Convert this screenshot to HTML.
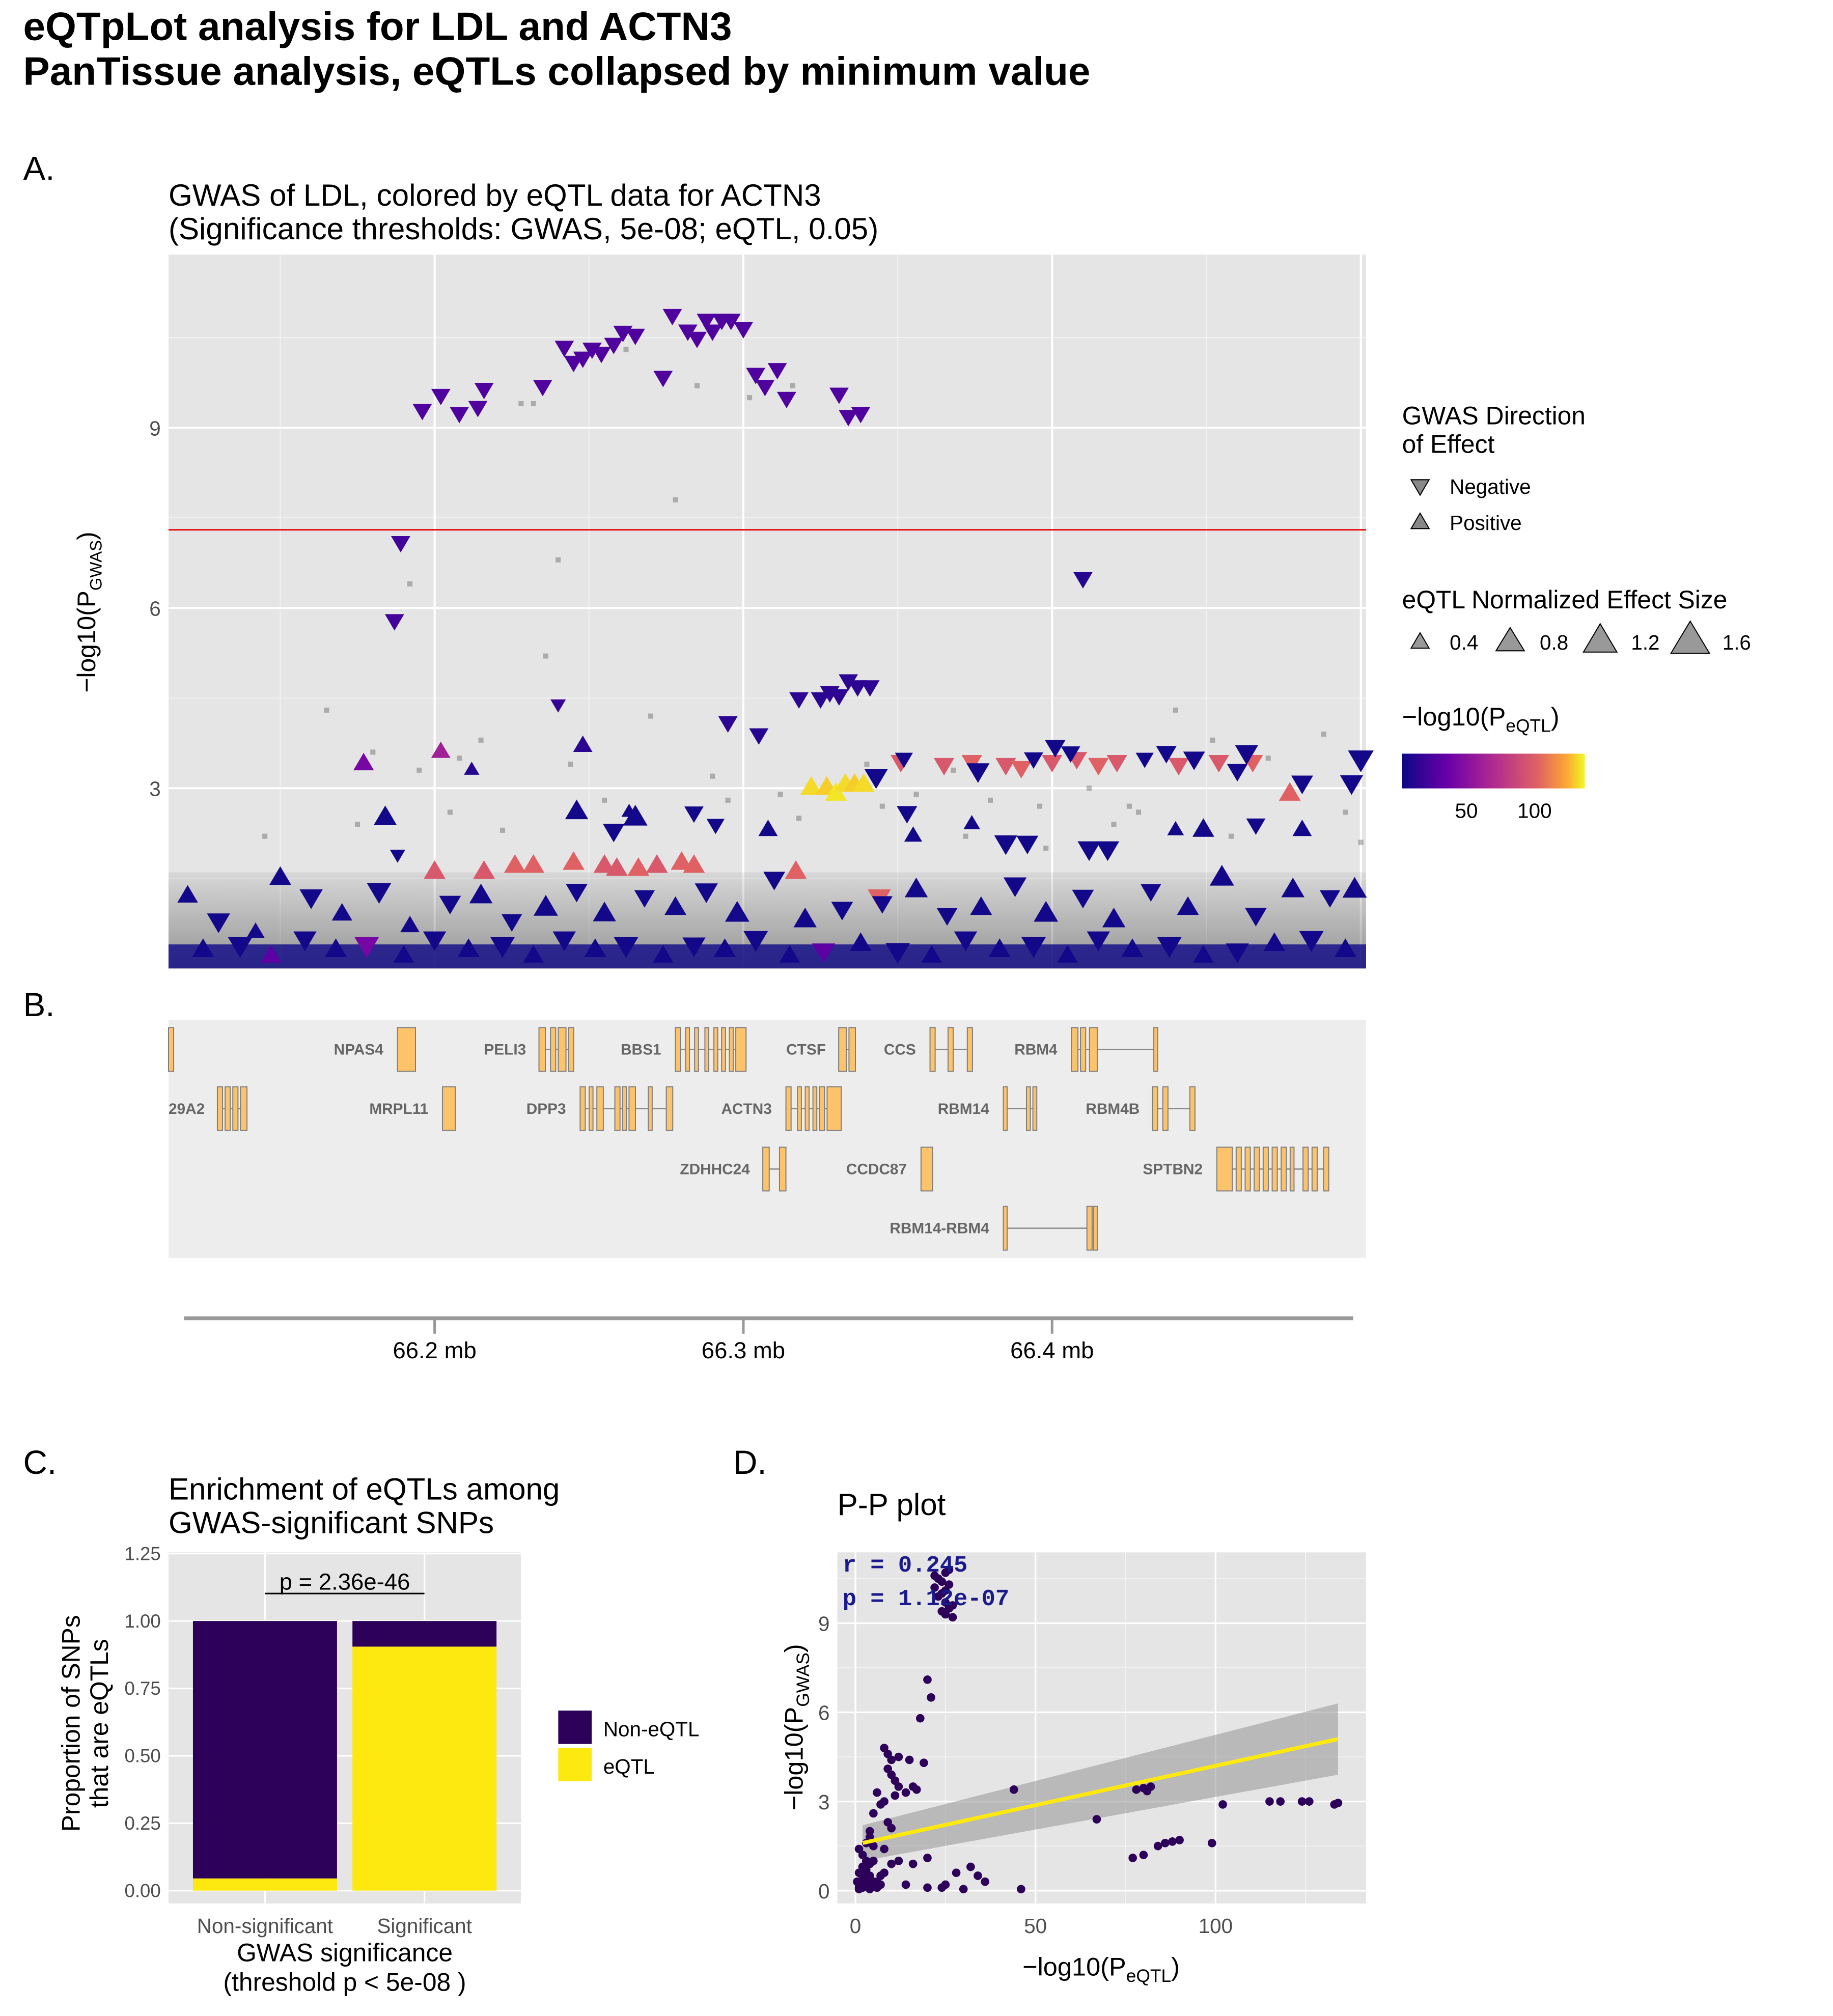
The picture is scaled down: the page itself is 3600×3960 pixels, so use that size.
<!DOCTYPE html>
<html><head><meta charset="utf-8">
<style>
html,body{margin:0;padding:0;background:#fff;}
svg{display:block;font-family:"Liberation Sans",Arial,sans-serif;}
</style></head>
<body>
<svg id="root" width="3600" height="3960" viewBox="0 0 1425 1567.5" xmlns="http://www.w3.org/2000/svg">
<text x="18" y="31" font-size="31" font-weight="bold">eQTpLot analysis for LDL and ACTN3</text>
<text x="18" y="66" font-size="31" font-weight="bold">PanTissue analysis, eQTLs collapsed by minimum value</text>

<text x="18" y="140" font-size="26">A.</text>
<text x="131" y="160" font-size="23.8">GWAS of LDL, colored by eQTL data for ACTN3</text>
<text x="131" y="186" font-size="23.8">(Significance thresholds: GWAS, 5e-08; eQTL, 0.05)</text>
<g id="panelA"></g>
<g id="legendA">
<text x="1090" y="330" font-size="19.7">GWAS Direction</text>
<text x="1090" y="352" font-size="19.7">of Effect</text>
<polygon points="1097,373 1111,373 1104,385" fill="#888" stroke="#000" stroke-width="0.8"/>
<text x="1127" y="384" font-size="16">Negative</text>
<polygon points="1097,411 1111,411 1104,399" fill="#888" stroke="#000" stroke-width="0.8"/>
<text x="1127" y="412" font-size="16">Positive</text>
<text x="1090" y="473" font-size="19.7">eQTL Normalized Effect Size</text>
<polygon points="1097,504 1111,504 1104,492" fill="#999" stroke="#000" stroke-width="0.8"/>
<text x="1127" y="505" font-size="16">0.4</text>
<polygon points="1163,506 1185,506 1174,488" fill="#999" stroke="#000" stroke-width="0.8"/>
<text x="1197" y="505" font-size="16">0.8</text>
<polygon points="1231,507 1257,507 1244,485" fill="#999" stroke="#000" stroke-width="0.8"/>
<text x="1268" y="505" font-size="16">1.2</text>
<polygon points="1299,508 1329,508 1314,483" fill="#999" stroke="#000" stroke-width="0.8"/>
<text x="1339" y="505" font-size="16">1.6</text>
<text x="1090" y="564" font-size="20">−log10(P<tspan font-size="14" dy="5">eQTL</tspan><tspan dy="-5">)</tspan></text>
<defs><linearGradient id="plasma" x1="0" x2="1" y1="0" y2="0">
<stop offset="0" stop-color="#0d0887"/><stop offset="0.25" stop-color="#6a00a8"/><stop offset="0.5" stop-color="#b12a90"/><stop offset="0.75" stop-color="#e16462"/><stop offset="0.9" stop-color="#fca636"/><stop offset="1" stop-color="#f0f921"/></linearGradient>
<linearGradient id="cloudGrad" x1="0" x2="0" y1="0" y2="1"><stop offset="0" stop-color="#000" stop-opacity="0.06"/><stop offset="1" stop-color="#000" stop-opacity="0.35"/></linearGradient></defs>
<rect x="1090" y="586" width="142" height="27" fill="url(#plasma)"/>
<text x="1140" y="636" font-size="16" text-anchor="middle">50</text>
<text x="1193" y="636" font-size="16" text-anchor="middle">100</text>
</g>

<text x="18" y="790" font-size="26">B.</text>
<rect x="131" y="793" width="931" height="185" fill="#ededed"/>
<g id="genes"></g>
<line x1="143" y1="1025" x2="1052" y2="1025" stroke="#999" stroke-width="3"/>
<g id="bAxis"></g>

<text x="18" y="1146" font-size="26">C.</text>
<text x="131" y="1166" font-size="23.8">Enrichment of eQTLs among</text>
<text x="131" y="1192" font-size="23.8">GWAS-significant SNPs</text>
<g id="panelC"></g>
<rect x="434" y="1630" width="0" height="0"/>
<rect x="434" y="1330" width="26" height="26" fill="#2d0059"/>
<text x="469" y="1350" font-size="16">Non-eQTL</text>
<rect x="434" y="1359" width="26" height="26" fill="#fde910"/>
<text x="469" y="1379" font-size="16">eQTL</text>

<text x="570" y="1146" font-size="26">D.</text>
<text x="651" y="1178" font-size="23.8">P-P plot</text>
<g id="panelD"></g>
</svg>
<script>
var NS="http://www.w3.org/2000/svg";
function mk(tag,attrs,parent,txt){var e=document.createElementNS(NS,tag);for(var k in attrs)e.setAttribute(k,attrs[k]);if(txt!=null)e.textContent=txt;parent.appendChild(e);return e;}

// ===== Panel A data =====
var snpPos=[66.196,66.202,66.208,66.214,66.216,66.235,66.242,66.245,66.248,66.251,66.254,66.258,66.261,66.265,66.274,66.277,66.282,66.285,66.288,66.290,66.293,66.296,66.300,66.304,66.307,66.311,66.314,66.331,66.334,66.338,
66.189,66.187,66.410,66.318,66.325,66.328,66.331,66.334,66.337,66.341,66.295,66.305,66.240,66.202,66.212,66.248,66.263,
66.351,66.365,66.374,66.385,66.390,66.400,66.408,66.415,66.421,66.441,66.454,66.465,
66.343,66.352,66.376,66.394,66.401,66.406,66.430,66.437,66.446,66.460,66.463,66.481,66.497,66.500,
66.322,66.327,66.330,66.333,66.336,66.339,66.477,
66.200,66.216,66.226,66.232,66.245,66.255,66.266,66.272,66.280,66.284,66.317,66.259,66.344,66.177,
66.184,66.188,66.246,66.258,66.265,66.284,66.291,66.308,66.353,66.374,66.385,66.418,66.449,66.466,66.481,66.355,66.392,66.412,66.440,
66.120,66.130,66.142,66.150,66.160,66.170,66.182,66.192,66.205,66.215,66.225,66.236,66.246,66.255,66.268,66.278,66.288,66.298,66.310,66.320,66.332,66.345,66.356,66.366,66.377,66.388,66.398,66.410,66.420,66.432,66.444,66.455,66.466,66.478,66.490,66.498,
66.125,66.137,66.147,66.158,66.168,66.178,66.190,66.200,66.211,66.222,66.232,66.242,66.252,66.262,66.274,66.284,66.294,66.304,66.315,66.326,66.338,66.350,66.361,66.372,66.383,66.394,66.405,66.415,66.426,66.438,66.449,66.460,66.472,66.484,66.495];
var snpLogP=[9.3,9.55,9.25,9.35,9.65,9.7,10.35,10.1,10.17,10.32,10.25,10.4,10.6,10.55,9.85,10.88,10.62,10.5,10.8,10.62,10.8,10.8,10.66,9.9,9.7,9.98,9.5,9.57,9.2,9.25,
7.1,5.8,6.5,4.5,4.5,4.6,4.55,4.8,4.7,4.7,4.1,3.9,4.4,3.6,3.3,3.7,2.6,
3.45,3.4,3.45,3.4,3.35,3.45,3.5,3.4,3.45,3.4,3.45,3.45,
3.2,3.5,3.3,3.5,3.7,3.6,3.5,3.6,3.5,3.3,3.6,3.1,3.1,3.5,
3.0,3.0,2.9,3.05,3.05,3.05,2.9,
1.6,1.6,1.7,1.7,1.75,1.7,1.65,1.7,1.75,1.7,1.6,1.65,1.2,3.4,
2.5,1.9,2.6,2.3,2.5,2.6,2.4,2.3,2.6,2.4,2.1,2.0,2.3,2.4,2.3,2.2,2.1,2.0,2.3,
1.2,0.8,0.6,1.5,1.2,0.9,1.3,0.7,1.1,1.2,0.8,1.0,1.3,0.9,1.2,1.0,1.3,0.9,1.5,0.8,1.0,1.1,1.3,0.9,1.0,1.4,0.9,1.2,0.8,1.3,1.0,1.5,0.9,1.3,1.2,1.3,
0.3,0.4,0.2,0.5,0.3,0.4,0.2,0.5,0.3,0.4,0.2,0.5,0.3,0.4,0.2,0.4,0.3,0.5,0.2,0.3,0.4,0.3,0.2,0.5,0.3,0.4,0.2,0.5,0.3,0.4,0.2,0.3,0.4,0.5,0.3];
var snpDir=[-1,-1,-1,-1,-1,-1,-1,-1,-1,-1,-1,-1,-1,-1,-1,-1,-1,-1,-1,-1,-1,-1,-1,-1,-1,-1,-1,-1,-1,-1,
-1,-1,-1,-1,-1,-1,-1,-1,-1,-1,-1,-1,-1,1,1,1,1,
-1,-1,-1,-1,-1,-1,-1,-1,-1,-1,-1,-1,
-1,-1,-1,-1,-1,-1,-1,-1,-1,-1,-1,-1,-1,-1,
1,1,1,1,1,1,1,
1,1,1,1,1,1,1,1,1,1,1,1,-1,1,
1,-1,1,-1,1,-1,-1,1,-1,1,-1,-1,1,-1,1,1,-1,-1,1,
1,-1,1,1,-1,1,-1,1,-1,1,-1,1,-1,1,-1,1,-1,1,-1,1,-1,-1,1,-1,1,-1,1,-1,1,-1,1,1,-1,1,-1,1,
1,-1,1,-1,1,-1,1,-1,1,-1,1,-1,1,-1,1,-1,1,-1,1,-1,1,-1,1,-1,1,-1,1,-1,1,-1,1,-1,1,-1,1];
var snpEqtl=[25,25,25,25,25,25,25,25,25,25,25,25,25,25,25,25,25,25,25,25,25,25,25,25,25,25,25,25,25,25,
20,20,10,12,12,12,12,12,12,12,12,10,15,60,10,12,5,
95,95,100,95,100,95,95,100,95,95,95,100,
3,3,3,3,3,3,3,3,3,3,3,3,3,3,
130,128,132,130,128,130,100,
95,95,100,100,100,95,100,95,100,100,100,95,100,40,
3,3,3,3,3,3,3,3,3,3,3,3,3,3,3,3,3,3,3,
3,3,3,3,3,3,3,3,3,3,3,3,3,3,3,3,3,3,3,3,3,3,3,3,3,3,3,3,3,3,3,3,3,3,3,3,
3,3,30,3,3,40,3,3,3,3,3,3,3,3,3,3,3,3,3,30,3,3,3,3,3,3,3,3,3,3,3,3,3,3,3];
var snpEffect=[0.9,0.9,0.9,0.9,0.9,0.9,0.9,0.9,0.9,0.9,0.9,0.9,0.9,0.9,0.9,0.9,0.9,0.9,0.9,0.9,0.9,0.9,0.9,0.9,0.9,0.9,0.9,0.9,0.9,0.9,
0.9,0.9,0.9,0.9,0.9,0.9,0.9,0.9,0.9,0.9,0.9,0.9,0.6,0.9,0.6,0.9,0.6,
1.0,1.0,1.0,1.0,1.0,1.0,1.0,1.0,1.0,1.0,1.0,1.0,
1.2,0.8,1.2,0.9,1.0,0.9,0.8,1.0,1.1,1.0,1.2,1.1,1.2,1.4,
1.1,1.1,1.1,1.1,1.1,1.1,1.1,
1.1,1.1,1.1,1.1,1.1,1.1,1.1,1.1,1.1,1.1,1.1,1.1,1.2,1.0,
1.2,0.6,1.2,1.1,1.3,0.9,0.8,0.9,1.0,0.7,1.2,1.2,1.1,0.9,0.9,0.8,1.1,1.2,0.7,
1.0,1.2,0.8,1.1,1.2,1.0,1.3,0.9,1.1,1.2,1.0,1.3,1.1,1.2,1.0,1.1,1.2,1.3,1.1,1.2,1.1,1.0,1.2,1.0,1.1,1.2,1.3,1.1,1.2,1.0,1.1,1.3,1.1,1.2,1.0,1.3,
1.1,1.3,1.0,1.2,1.1,1.3,1.0,1.2,1.1,1.3,1.0,1.2,1.1,1.3,1.0,1.2,1.1,1.3,1.0,1.2,1.1,1.3,1.0,1.2,1.1,1.3,1.0,1.2,1.1,1.3,1.0,1.2,1.1,1.3,1.1];
var greyPos=[66.165,66.18,66.192,66.195,66.208,66.215,66.228,66.232,66.236,66.240,66.244,66.262,66.270,66.278,66.285,66.290,66.295,66.302,66.312,66.316,66.340,66.356,66.368,66.380,66.396,66.412,66.425,66.428,66.440,66.452,66.470,66.488,66.495,66.500,66.145,66.175,66.205,66.222,66.255,66.318,66.345,66.372,66.398,66.420,66.458,66.482];
var greyLogP=[4.3,3.6,6.4,3.3,3.5,3.8,9.4,9.4,5.2,6.8,3.4,10.3,4.2,7.8,9.7,3.2,2.8,9.5,2.9,9.7,3.4,2.9,3.3,2.8,2.7,3.0,2.7,2.6,4.3,3.8,3.5,3.9,2.6,2.1,2.2,2.4,2.6,2.3,2.8,2.5,2.7,2.2,2.0,2.4,2.2,2.3];

var A={x0:131,y0:198,w:931,h:555};
var xMin=66.1138,xMax=66.5017,yMax=11.88;
function ax(v){return A.x0+(v-xMin)/(xMax-xMin)*A.w;}
function ay(v){return A.y0+A.h-v/yMax*A.h;}
var plasmaStops=[[0,13,8,135],[0.25,106,0,168],[0.5,177,42,144],[0.75,225,100,98],[0.9,252,166,54],[1,240,249,33]];
function plasma(v){var t=Math.max(0,Math.min(1,(v-1)/(135-1)));for(var i=1;i<plasmaStops.length;i++){if(t<=plasmaStops[i][0]){var a=plasmaStops[i-1],b=plasmaStops[i],f=(t-a[0])/(b[0]-a[0]);return "rgb("+Math.round(a[1]+f*(b[1]-a[1]))+","+Math.round(a[2]+f*(b[2]-a[2]))+","+Math.round(a[3]+f*(b[3]-a[3]))+")";}}return "rgb(240,249,33)";}

var gA=document.getElementById('panelA');
var bg=mk('rect',{x:A.x0,y:A.y0,width:A.w,height:A.h,fill:'#e5e5e5'},gA);


var yTicks=[3,6,9];
var xTicks=[66.2,66.3,66.4];
var xTickLabels=['66.2 mb','66.3 mb','66.4 mb'];
[1.5,4.5,7.5,10.5].forEach(function(v){var l=mk('line',{x1:A.x0,x2:A.x0+A.w,y1:ay(v),y2:ay(v),stroke:'#f2f2f2','stroke-width':0.8},gA);});
[66.15,66.25,66.35,66.45].forEach(function(v){var l=mk('line',{x1:ax(v),x2:ax(v),y1:A.y0,y2:A.y0+A.h,stroke:'#f2f2f2','stroke-width':0.8},gA);});
yTicks.forEach(function(v){var l=mk('line',{x1:A.x0,x2:A.x0+A.w,y1:ay(v),y2:ay(v),stroke:'#fff','stroke-width':1.6},gA);
var t=mk('text',{x:A.x0-6,y:ay(v)+6,'font-size':16,'text-anchor':'end',fill:'#4d4d4d'},gA,String(v));});
xTicks.concat([66.5]).forEach(function(v){var l=mk('line',{x1:ax(v),x2:ax(v),y1:A.y0,y2:A.y0+A.h,stroke:'#fff','stroke-width':1.6},gA);});
var yt=mk('text',{x:0,y:0,'font-size':19.7,'text-anchor':'middle',transform:'translate(74,476) rotate(-90)'},gA);


yt.innerHTML='−log10(P<tspan font-size="13" dy="5">GWAS</tspan><tspan dy="-5">)</tspan>';
var cloud=mk('rect',{x:A.x0,y:ay(1.6),width:A.w,height:ay(0)-ay(1.6),fill:'url(#cloudGrad)'},gA);


var cloud2=mk('rect',{x:A.x0,y:ay(0.4),width:A.w,height:ay(0)-ay(0.4),fill:'rgba(13,8,135,0.8)'},gA);


greyPos.forEach(function(p,i){var r=mk('rect',{x:ax(p)-2,y:ay(greyLogP[i])-2,width:4,height:4,fill:'rgba(0,0,0,0.25)'},gA);});
var thr=mk('line',{x1:A.x0,x2:A.x0+A.w,y1:ay(7.30103),y2:ay(7.30103),stroke:'#e31a1c','stroke-width':1.3},gA);


snpPos.forEach(function(p,i){
  var px=ax(p),py=ay(snpLogP[i]),s=3+snpEffect[i]*5,d=snpDir[i],pts;
  if(d<0)pts=[px-s,py-s*0.6,px+s,py-s*0.6,px,py+s*1.1];else pts=[px-s,py+s*0.6,px+s,py+s*0.6,px,py-s*1.1];
  var t=mk('polygon',{points:pts.join(','),fill:plasma(snpEqtl[i])},gA);
  
  
});

// ===== Panel B genes =====
var genes=[
 {n:'',lx:0,row:0,s:131,e:135,ex:[[131,135]]},
 {n:'NPAS4',lx:298,row:0,s:309,e:323,ex:[[309,323]]},
 {n:'PELI3',lx:409,row:0,s:419,e:446,ex:[[419,424],[428,432],[434,440],[442,446]]},
 {n:'BBS1',lx:514,row:0,s:525,e:580,ex:[[525,529],[533,536],[540,543],[548,551],[555,558],[561,564],[567,570],[572,580]]},
 {n:'CTSF',lx:642,row:0,s:652,e:665,ex:[[652,658],[660,665]]},
 {n:'CCS',lx:712,row:0,s:723,e:756,ex:[[723,727],[737,741],[752,756]]},
 {n:'RBM4',lx:822,row:0,s:833,e:900,ex:[[833,838],[840,844],[847,853],[897,900]]},
 {n:'29A2',lx:159,row:1,s:169,e:192,ex:[[169,173],[175,179],[181,185],[187,192]]},
 {n:'MRPL11',lx:333,row:1,s:344,e:354,ex:[[344,354]]},
 {n:'DPP3',lx:440,row:1,s:451,e:523,ex:[[451,455],[458,461],[464,469],[478,482],[484,487],[489,494],[504,507],[518,523]]},
 {n:'ACTN3',lx:600,row:1,s:611,e:654,ex:[[611,615],[620,623],[626,629],[632,635],[637,641],[643,654]]},
 {n:'RBM14',lx:769,row:1,s:780,e:806,ex:[[780,783],[798,801],[803,806]]},
 {n:'RBM4B',lx:886,row:1,s:896,e:929,ex:[[896,900],[904,908],[925,929]]},
 {n:'ZDHHC24',lx:583,row:2,s:593,e:611,ex:[[593,598],[606,611]]},
 {n:'CCDC87',lx:705,row:2,s:716,e:725,ex:[[716,725]]},
 {n:'SPTBN2',lx:935,row:2,s:946,e:1033,ex:[[946,958],[961,965],[968,972],[975,979],[982,986],[989,993],[996,1000],[1003,1006],[1013,1017],[1020,1024],[1029,1033]]},
 {n:'RBM14-RBM4',lx:769,row:3,s:780,e:853,ex:[[780,783],[845,849],[850,853]]}
];
var rowY=[816,862,909,955];
var gG=document.getElementById('genes');
genes.forEach(function(g){
  var y=rowY[g.row];
  var grp=mk('g',{},gG);
  
  
  mk('line',{x1:g.s,x2:g.e,y1:y,y2:y,stroke:'#888','stroke-width':1},grp);
  g.ex.forEach(function(e){mk('rect',{x:e[0],y:y-17,width:e[1]-e[0],height:34,fill:'#fdc36b',stroke:'#7f7f7f','stroke-width':0.8},grp);});
  if(g.n){var t=mk('text',{x:g.lx,y:y+4,'font-size':11.8,'font-weight':'bold',fill:'#666','text-anchor':'end'},grp,g.n);
    if(g.n==='29A2'){t.setAttribute('text-anchor','start');t.setAttribute('x',131);}}
});
var gB=document.getElementById('bAxis');
var bx0=131,bw=931;
xTicks.forEach(function(v,i){var x=bx0+(v-xMin)/(xMax-xMin)*bw;
 var l=mk('line',{x1:x,x2:x,y1:1025,y2:1037,stroke:'#999','stroke-width':2},gB);
 var t=mk('text',{x:x,y:1056,'font-size':18,'text-anchor':'middle'},gB,xTickLabels[i]);});

// ===== Panel C =====
var cCats=['Non-significant','Significant'];
var cEqtl=[0.045,0.905];
var cYTicks=['0.00','0.25','0.50','0.75','1.00','1.25'];
var C={x0:131,y0:1207,w:274,h:273};
function cyS(v){return 1470-v/1.25*262;}
function cxS(i){return 206+i*124;}
var gC=document.getElementById('panelC');
var cbg=mk('rect',{x:C.x0,y:C.y0,width:C.w,height:C.h,fill:'#e5e5e5'},gC);


cYTicks.forEach(function(s){var v=parseFloat(s);var l=mk('line',{x1:C.x0,x2:C.x0+C.w,y1:cyS(v),y2:cyS(v),stroke:'#fff','stroke-width':1.2},gC);
 var t=mk('text',{x:C.x0-6,y:cyS(v)+5,'font-size':14.5,'text-anchor':'end',fill:'#4d4d4d'},gC,s);});
cCats.forEach(function(c,i){
 var l=mk('line',{x1:cxS(i),x2:cxS(i),y1:C.y0,y2:C.y0+C.h,stroke:'#fff','stroke-width':1.2},gC);
});
cCats.forEach(function(c,i){
 var x=cxS(i)-56;
 var b1=mk('rect',{x:x,y:cyS(1),width:112,height:cyS(cEqtl[i])-cyS(1),fill:'#2d0059'},gC);
 
 
 var b2=mk('rect',{x:x,y:cyS(cEqtl[i]),width:112,height:cyS(0)-cyS(cEqtl[i]),fill:'#fde910'},gC);
 
 
 var t=mk('text',{x:cxS(i),y:1503,'font-size':16,'text-anchor':'middle',fill:'#4d4d4d'},gC,c);
 
 
});
var br=mk('line',{x1:206,x2:330,y1:1239,y2:1239,stroke:'#000','stroke-width':1.2},gC);


var pt=mk('text',{x:268,y:1236,'font-size':18,'text-anchor':'middle'},gC,'p = 2.36e-46');


var cxt=mk('text',{x:268,y:1525,'font-size':19.7,'text-anchor':'middle'},gC,'GWAS significance');


var cxt2=mk('text',{x:268,y:1548,'font-size':19.7,'text-anchor':'middle'},gC,'(threshold p \u003c 5e-08 )');


var cyt=mk('text',{x:0,y:0,'font-size':19.7,'text-anchor':'middle',transform:'translate(62,1340) rotate(-90)'},gC,'Proportion of SNPs');


var cyt2=mk('text',{x:0,y:0,'font-size':19.7,'text-anchor':'middle',transform:'translate(84,1340) rotate(-90)'},gC,'that are eQTLs');



// ===== Panel D =====
var ppX=[22,23,24,25,26,22,24,25,26,27,23,24,25,26,27,25,20,21,18,19,17,8,9,10,11,12,10,9,11,8,7,6,5,9,10,12,14,15,16,3,4,5,2,3,4,1,2,3,5,6,7,1,2,3,1,2,1,0.5,4,6,8,12,16,20,24,28,32,36,46,20,25,30,34,44,67,78,80,81,82,77,80,84,86,88,90,99,102,115,118,124,126,133,134,1,2,3,4,5,6,7,2,3,4,5,6,4,8,10,14];
var ppY=[10.6,10.5,10.4,10.7,10.8,10.2,9.4,9.3,9.5,9.6,9.9,10,10.1,10.3,9.2,9.7,7.1,6.5,5.8,4.3,3.4,4.8,4.6,4.4,3.7,3.5,3.9,4.1,3.2,3.0,2.9,3.3,2.6,2.3,2.1,4.5,3.3,4.4,3.5,1.6,1.8,1.5,1.2,1.0,0.9,0.6,0.4,0.3,0.2,0.1,0.5,1.4,0.8,0.6,0.2,0.1,0.05,0.3,0.4,0.2,0.6,1.0,0.9,1.1,0.1,0.6,0.8,0.3,0.05,0.1,0.2,0.05,0.5,3.4,2.4,3.4,3.45,3.35,3.5,1.1,1.2,1.5,1.6,1.65,1.7,1.6,2.9,3.0,3.0,3.0,3.0,2.9,2.95,0.1,0.2,0.15,0.05,0.3,0.1,0.2,0.8,0.7,0.5,1.0,0.3,2.0,1.4,0.9,0.2];
var ppTicksX=[0,50,100];
var ppTicksY=[0,3,6,9];
var fitIntercept=1.55, fitSlope=0.0265;
var D={x0:651,y0:1207,w:411,h:273};
function dxS(v){return 665+v*2.8;}
function dyS(v){return 1470-v*23.1;}
var gD=document.getElementById('panelD');
var dbg=mk('rect',{x:D.x0,y:D.y0,width:D.w,height:D.h,fill:'#e5e5e5'},gD);


[25,75,125].forEach(function(v){var l=mk('line',{x1:dxS(v),x2:dxS(v),y1:D.y0,y2:D.y0+D.h,stroke:'#f2f2f2','stroke-width':0.8},gD);});
[1.5,4.5,7.5,10.5].forEach(function(v){var l=mk('line',{x1:D.x0,x2:D.x0+D.w,y1:dyS(v),y2:dyS(v),stroke:'#f2f2f2','stroke-width':0.8},gD);});
ppTicksX.forEach(function(v){var l=mk('line',{x1:dxS(v),x2:dxS(v),y1:D.y0,y2:D.y0+D.h,stroke:'#fff','stroke-width':1.3},gD);
 var t=mk('text',{x:dxS(v),y:1503,'font-size':16,'text-anchor':'middle',fill:'#4d4d4d'},gD,String(v));});
ppTicksY.forEach(function(v){var l=mk('line',{x1:D.x0,x2:D.x0+D.w,y1:dyS(v),y2:dyS(v),stroke:'#fff','stroke-width':1.3},gD);
 var t=mk('text',{x:D.x0-6,y:dyS(v)+6,'font-size':16,'text-anchor':'end',fill:'#4d4d4d'},gD,String(v));});
var band=mk('polygon',{points:[dxS(2),dyS(2.2),dxS(134),dyS(6.3),dxS(134),dyS(3.9),dxS(2),dyS(1.0)].join(','),fill:'rgba(150,150,150,0.55)'},gD);


ppX.forEach(function(v,i){var c=mk('circle',{cx:dxS(v),cy:dyS(ppY[i]),r:3.3,fill:'#2d0059'},gD);});
var fl=mk('line',{x1:dxS(2),y1:dyS(fitIntercept+fitSlope*2),x2:dxS(134),y2:dyS(fitIntercept+fitSlope*134),stroke:'#fde910','stroke-width':3},gD);


var r1=mk('text',{x:655,y:1222,'font-size':18,'font-family':'Liberation Mono, monospace','font-weight':'bold',fill:'#1a1a8c'},gD,'r = 0.245');


var r2=mk('text',{x:655,y:1248,'font-size':18,'font-family':'Liberation Mono, monospace','font-weight':'bold',fill:'#1a1a8c'},gD,'p = 1.12e-07');


var dxt=mk('text',{x:856,y:1536,'font-size':20,'text-anchor':'middle'},gD);


dxt.innerHTML='−log10(P<tspan font-size="14" dy="5">eQTL</tspan><tspan dy="-5">)</tspan>';
var dyt=mk('text',{x:0,y:0,'font-size':20,'text-anchor':'middle',transform:'translate(624,1343) rotate(-90)'},gD);


dyt.innerHTML='−log10(P<tspan font-size="14" dy="5">GWAS</tspan><tspan dy="-5">)</tspan>';
</script>
</body></html>
